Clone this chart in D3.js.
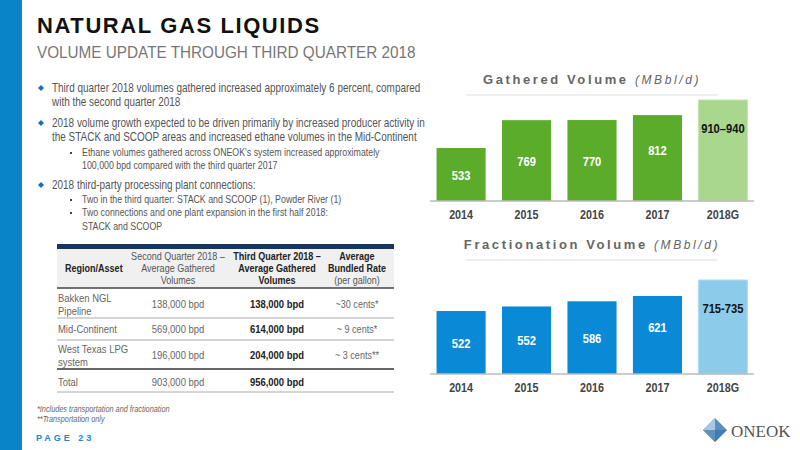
<!DOCTYPE html>
<html><head><meta charset="utf-8">
<script src="https://cdn.jsdelivr.net/npm/d3@7"></script>
<style>body{margin:0;background:#fff}svg{font-family:"Liberation Sans",Arial,sans-serif}</style>
</head><body><svg id="c" width="800" height="450"></svg>
<script>
// chart data
var years = ["2014", "2015", "2016", "2017", "2018G"];
var gatheredVals = [533, 769, 770, 812, 940];
var gatheredLabels = ["533", "769", "770", "812", "910–940"];
var fracVals = [522, 552, 586, 621, 726];
var fracLabels = ["522", "552", "586", "621", "715-735"];
// table data
var tableHead = [["Region/Asset"], ["Second Quarter 2018 –", "Average Gathered", "Volumes"],
  ["Third Quarter 2018 –", "Average Gathered", "Volumes"], ["Average", "Bundled Rate", "(per gallon)"]];
var tableRows = [
  [["Bakken NGL", "Pipeline"], "138,000 bpd", "138,000 bpd", "~30 cents*"],
  [["Mid-Continent"], "569,000 bpd", "614,000 bpd", "~ 9 cents*"],
  [["West Texas LPG", "system"], "196,000 bpd", "204,000 bpd", "~ 3 cents**"],
  [["Total"], "903,000 bpd", "956,000 bpd", ""]
];

var svg = d3.select("#c");
// condensed text helper (reference uses a narrow face)
function ntext(x, y, k) {
  return svg.append("text").attr("transform", "translate(" + x + "," + y + ") scale(" + (k || 0.86) + ",1)");
}
svg.append("rect").attr("width", 22).attr("height", 450).attr("fill", "#0a84c8");
svg.append("text").attr("x", 37).attr("y", 33).attr("font-size", 22).attr("font-weight", "bold")
  .attr("letter-spacing", 1.6).attr("fill", "#111").text("NATURAL GAS LIQUIDS");
ntext(37, 58, 0.9).attr("font-size", 17).attr("fill", "#777").text("VOLUME UPDATE THROUGH THIRD QUARTER 2018");

// bullets
var bullets = [
  [1, 92, "Third quarter 2018 volumes gathered increased approximately 6 percent, compared"],
  [0, 106, "with the second quarter 2018"],
  [1, 127, "2018 volume growth expected to be driven primarily by increased producer activity in"],
  [0, 141, "the STACK and SCOOP areas and increased ethane volumes in the Mid-Continent"],
  [2, 156, "Ethane volumes gathered across ONEOK's system increased approximately"],
  [0, 169, "100,000 bpd compared with the third quarter 2017", 1],
  [1, 189, "2018 third-party processing plant connections:"],
  [2, 203, "Two in the third quarter: STACK and SCOOP (1), Powder River (1)"],
  [2, 216, "Two connections and one plant expansion in the first half 2018:"],
  [0, 230, "STACK and SCOOP", 1]
];
bullets.forEach(function (b) {
  var sub = b[0] == 2 || b[3];
  var x = sub ? 82 : 52, fs = sub ? 10.5 : 12;
  if (b[0] == 1) svg.append("path").attr("d", "M41,"+(b[1]-7)+"l3,3l-3,3l-3,-3z").attr("fill", "#1a6fb5");
  if (b[0] == 2) svg.append("rect").attr("x", 70).attr("y", b[1]-4).attr("width", 2).attr("height", 2).attr("fill", "#444");
  ntext(x, b[1], sub ? 0.84 : 0.83).attr("font-size", fs).attr("fill", "#555").text(b[2]);
});

// table
var tx0 = 57, tx1 = 394;
var colC = [58, 178, 277, 357];
svg.append("rect").attr("x", tx0).attr("y", 244).attr("width", tx1-tx0).attr("height", 5).attr("fill", "#14365f");
svg.append("rect").attr("x", tx0).attr("y", 249).attr("width", tx1-tx0).attr("height", 39).attr("fill", "#f0f0f0");
tableHead.forEach(function (h, i) {
  var ys = h.length == 1 ? [272] : [260, 272, 284];
  h.forEach(function (s, j) {
    var bold = i == 2 || i == 0 || (i == 3 && j < 2);
    ntext(i ? colC[i] : 65, ys[j], 0.86).attr("text-anchor", i ? "middle" : "start").attr("font-size", 10.5)
      .attr("font-weight", bold ? "bold" : "normal").attr("fill", bold ? "#222" : "#555").text(s);
  });
});
var lines = [[288, 1.5, "#444"], [318, 1, "#aaa"], [340, 1, "#aaa"], [369, 1.5, "#333"], [392, 1, "#aaa"]];
lines.forEach(function (l) {
  svg.append("line").attr("x1", tx0).attr("x2", tx1).attr("y1", l[0]).attr("y2", l[0])
    .attr("stroke", l[2]).attr("stroke-width", l[1]);
});
var rowMid = [305, 330, 356, 383];
tableRows.forEach(function (r, i) {
  var y = rowMid[i];
  r[0].forEach(function (s, j) {
    ntext(58, r[0].length == 2 ? y - 3 + j*13 : y + 3).attr("font-size", 11).attr("fill", "#666").text(s);
  });
  for (var k = 1; k < 4; k++) {
    ntext(colC[k], y + 3).attr("text-anchor", "middle")
      .attr("font-size", k == 3 ? 10.5 : 11).attr("font-weight", k == 2 ? "bold" : "normal")
      .attr("fill", k == 2 ? "#222" : "#666").text(r[k]);
  }
});
ntext(37, 412).attr("font-size", 8.5).attr("font-style", "italic")
  .attr("fill", "#666").text("*Includes transportation and fractionation");
ntext(37, 422).attr("font-size", 8.5).attr("font-style", "italic")
  .attr("fill", "#666").text("**Transportation only");
svg.append("text").attr("x", 36).attr("y", 441).attr("font-size", 9).attr("font-weight", "bold")
  .attr("letter-spacing", 3).attr("fill", "#1a86d0").text("PAGE 23");

// bar charts
var x = d3.scaleBand().domain(years).range([430, 754]).paddingInner(0.25).paddingOuter(0.1);
function chart(cfg) {
  var y = d3.scaleLinear().domain(cfg.dom).range([cfg.base, cfg.top]);
  var t = svg.append("text").attr("x", 592).attr("y", cfg.ty).attr("text-anchor", "middle")
    .attr("font-size", 13).attr("font-weight", "bold").attr("fill", "#666").attr("letter-spacing", 2.6);
  t.append("tspan").text(cfg.title + " ");
  t.append("tspan").attr("font-style", "italic").attr("font-weight", "normal").attr("font-size", 12).text("(MBbl/d)");
  svg.append("line").attr("x1", 466).attr("x2", 717).attr("y1", cfg.ty + 11).attr("y2", cfg.ty + 11)
    .attr("stroke", "#ddd");
  var g = svg.append("g");
  cfg.vals.forEach(function (v, i) {
    var last = i == cfg.vals.length - 1;
    var top = y(v);
    g.append("rect").attr("x", x(years[i])).attr("y", top).attr("width", x.bandwidth())
      .attr("height", cfg.base - top).attr("fill", last ? cfg.light : cfg.color)
      .attr("stroke", last ? cfg.lightStroke : "none");
    var ly = last ? top + 33 : (cfg.base + top) / 2 + 5;
    if (cfg.shift && cfg.shift[i]) ly += cfg.shift[i];
    g.append("text").attr("transform", "translate(" + (x(years[i]) + x.bandwidth()/2) + "," + ly + ") scale(0.86,1)")
      .attr("text-anchor", "middle")
      .attr("font-size", 13).attr("font-weight", "bold").attr("fill", last ? "#111" : "#fff")
      .text(cfg.labels[i]);
  });
  svg.append("line").attr("x1", 430).attr("x2", 754).attr("y1", cfg.base).attr("y2", cfg.base)
    .attr("stroke", "#bbb").attr("stroke-width", 1.5);
  var ax = svg.append("g").attr("transform", "translate(0," + cfg.base + ")")
    .call(d3.axisBottom(x).tickSize(0).tickPadding(9));
  ax.select(".domain").remove();
  ax.selectAll("text").attr("font-size", 12.5).attr("font-weight", "bold").attr("fill", "#444")
    .attr("font-family", "Liberation Sans, Arial, sans-serif").attr("transform", "scale(0.86,1)");
}
chart({ title: "Gathered Volume", ty: 84, base: 201, top: 100, dom: [84, 940],
  vals: gatheredVals, labels: gatheredLabels, color: "#5aac2a", light: "#a9d78d", lightStroke: "#c5e4b0",
  shift: [0, 0, 0, -8] });
chart({ title: "Fractionation Volume", ty: 249, base: 374, top: 280, dom: [108, 726],
  vals: fracVals, labels: fracLabels, color: "#0a8ad6", light: "#8dcbea", lightStroke: "#b5dcf0",
  shift: [0, 0, 0, -8] });

// logo
var lg = svg.append("g").attr("transform", "translate(715,430)");
lg.append("path").attr("d", "M0,-12L12,0L0,12L-12,0Z").attr("fill", "#5b8fc0");
lg.append("path").attr("d", "M0,-12L0,12L-12,0Z").attr("fill", "#a9c6e2");
lg.append("path").attr("d", "M-12,0L12,0L0,12Z").attr("fill", "#2f6ea8").attr("opacity", 0.6);
svg.append("text").attr("x", 731).attr("y", 437).attr("font-family", "Liberation Serif, serif")
  .attr("font-size", 17).attr("fill", "#555").text("ONEOK");
</script></body></html>
